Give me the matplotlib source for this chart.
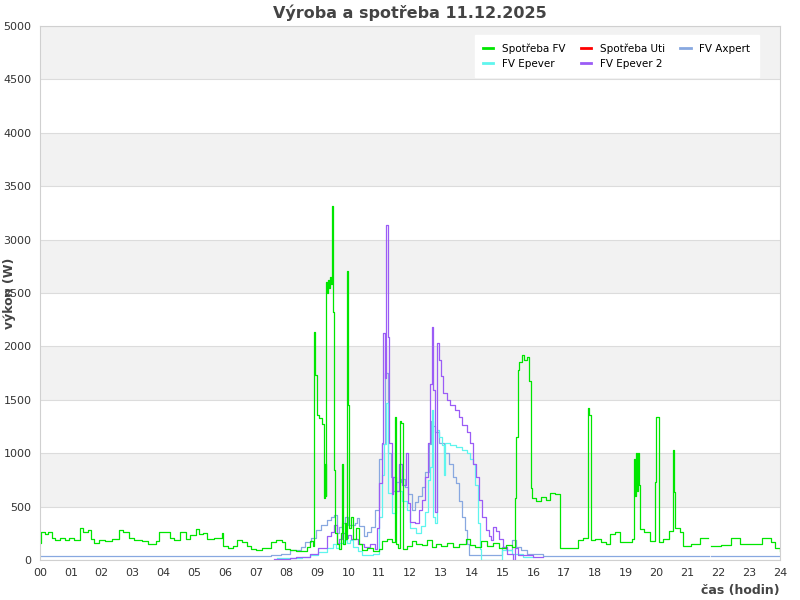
import numpy as np
import matplotlib
matplotlib.use("Agg")
import matplotlib.pyplot as plt

nan = np.nan

# Spotřeba FV (hour, W)
fv_h = [0.00, 0.03, 0.15, 0.25, 0.40, 0.50, 0.65, 0.80, 0.95, 1.10, 1.30, 1.40, 1.55, 1.65, 1.75,
        1.90, 2.10, 2.35, 2.55, 2.70, 2.90, 3.05, 3.30, 3.50, 3.75, 3.85, 4.20, 4.35, 4.55, 4.75,
        4.85, 5.05, 5.15, 5.30, 5.40, 5.65, 5.90, 5.95, 6.10, 6.25, 6.40, 6.55, 6.70, 6.85, 7.00,
        7.20, 7.50, 7.65, 7.85, 7.95, 8.10, 8.30, 8.50, 8.65, 8.75, 8.85, 8.90, 8.93, 8.97, 9.05,
        9.15, 9.20, 9.23, 9.26, 9.28, 9.30, 9.33, 9.36, 9.40, 9.45, 9.48, 9.51, 9.53, 9.56, 9.62,
        9.70, 9.76, 9.80, 9.83, 9.88, 9.92, 9.97, 10.00, 10.03, 10.08, 10.15, 10.25, 10.35, 10.45,
        10.60, 10.80, 11.00, 11.10, 11.25, 11.40, 11.52, 11.56, 11.62, 11.66, 11.72, 11.78, 11.90,
        12.05, 12.20, 12.40, 12.55, 12.70, 12.85, 13.00, 13.20, 13.40, 13.60, 13.80, 13.95, 14.10,
        14.30, 14.50, 14.70, 14.90, 15.10, 15.30, 15.40, 15.45, 15.50, 15.55, 15.62, 15.70, 15.78,
        15.87, 15.93, 15.97, 16.10, 16.25, 16.40, 16.55, 16.70, 16.85, 17.45, 17.60, 17.78, 17.82,
        17.87, 18.00, 18.20, 18.35, 18.50, 18.65, 18.80, 19.20, 19.25, 19.30, 19.33, 19.37, 19.40,
        19.43, 19.46, 19.60, 19.78, 19.95, 19.98, 20.07, 20.20, 20.40, 20.52, 20.55, 20.60, 20.75,
        20.85, 21.10, 21.40, 21.67, 21.77, 22.10, 22.40, 22.70, 23.40, 23.70, 23.85, 24.00]
fv_w = [160, 260, 240, 265, 210, 190, 205, 185, 210, 190, 300, 260, 280, 200, 160,
        185, 180, 200, 280, 260, 210, 190, 180, 150, 175, 260, 205, 190, 260, 200,
        230, 290, 240, 250, 200, 205, 255, 130, 110, 130, 190, 170, 130, 100, 95,
        110, 170, 190, 170, 100, 90, 85, 80, 120, 180, 130, 2130, 1730, 1360, 1330,
        1270, 580, 900, 600, 2600, 2500, 2620, 2550, 2650, 2580, 3310, 2320, 840, 250, 150,
        100, 250, 900, 150, 350, 200, 2710, 1450, 300, 400, 200, 300, 150, 90,
        110, 80, 100, 180, 200, 170, 1340, 150, 110, 1300, 1280, 100, 130,
        180, 150, 140, 190, 120, 150, 130, 160, 120, 150, 200, 140, 120,
        180, 130, 160, 110, 140, 120, 580, 1150, 1780, 1850, 1920, 1870, 1900,
        1680, 670, 580, 550, 590, 560, 630, 620, 110, 190, 210, 1420, 1360,
        190, 200, 170, 150, 240, 260, 170, 200, 950, 600, 1000, 650, 1000,
        700, 290, 260, 180, 730, 1340, 170, 200, 270, 1030, 640, 300, 260,
        130, 150, 210, nan, 130, 140, 210, 150, 210, 170, 110, 80]

# Spotřeba Uti - no data this day
uti_h = []
uti_w = []

# FV Axpert
ax_h = [0.00, 7.48, 7.80, 8.10, 8.45, 8.60, 8.80, 8.95, 9.10, 9.30, 9.45, 9.55, 9.62, 9.70, 9.80,
        9.90, 10.00, 10.20, 10.28, 10.35, 10.50, 10.62, 10.72, 10.86, 11.00, 11.10, 11.20, 11.30,
        11.38, 11.45, 11.55, 11.70, 11.85, 11.95, 12.05, 12.15, 12.25, 12.40, 12.50, 12.60, 12.67,
        12.75, 12.80, 12.95, 13.10, 13.25, 13.40, 13.50, 13.60, 13.70, 13.78, 13.85, 13.92, 14.97,
        15.10, 15.30, 15.45, 15.60, 15.78, 16.00, 16.30, 21.70, 21.77, 24.00]
ax_w = [35, 45, 60, 95, 120, 170, 210, 280, 330, 370, 400, 420, 250, 310, 350,
        400, 330, 350, 390, 320, 220, 260, 310, 470, 950, 1090, 1750, 1000,
        780, 650, 730, 760, 680, 620, 470, 540, 600, 680, 820, 1090, 1300,
        1250, 1200, 1100, 1000, 900, 780, 720, 550, 400, 280, 150, 47, 125,
        90, 190, 120, 90, 60, 55, 37, nan, 37, 37]

# FV Epever
ep_h = [7.70, 8.00, 8.50, 8.76, 9.00, 9.30, 9.50, 9.60, 9.70, 9.85, 9.95, 10.05, 10.15, 10.30,
        10.45, 10.60, 10.80, 11.00, 11.10, 11.15, 11.22, 11.30, 11.40, 11.55, 11.75, 11.90, 12.00,
        12.20, 12.35, 12.50, 12.58, 12.65, 12.70, 12.73, 12.80, 12.88, 12.95, 13.05, 13.10, 13.15,
        13.30, 13.50, 13.70, 13.85, 13.95, 14.05, 14.12, 14.20, 14.27, 14.30, 14.97, 15.30, 15.67,
        16.00]
ep_w = [15, 20, 30, 45, 75, 110, 150, 110, 160, 190, 160, 190, 120, 80,
        50, 45, 60, 400, 800, 1090, 1470, 630, 440, 650, 550, 470, 300,
        250, 320, 450, 750, 870, 1400, 400, 350, 1220, 1150, 1080, 800, 1100,
        1080, 1060, 1030, 1000, 950, 900, 700, 350, 100, 0, 95, 60, 30,
        30]

# FV Epever 2
ep2_h = [7.60, 8.10, 8.30, 8.75, 9.00, 9.30, 9.45, 9.55, 9.62, 9.70, 9.80, 9.90, 10.00, 10.10,
         10.30, 10.50, 10.70, 10.85, 10.93, 11.00, 11.08, 11.14, 11.20, 11.22, 11.30, 11.33, 11.40,
         11.45, 11.55, 11.65, 11.75, 11.87, 11.92, 12.00, 12.15, 12.30, 12.40, 12.50, 12.58, 12.65,
         12.72, 12.76, 12.80, 12.87, 12.93, 13.00, 13.08, 13.20, 13.30, 13.45, 13.60, 13.70, 13.85,
         13.95, 14.05, 14.15, 14.25, 14.35, 14.45, 14.55, 14.62, 14.70, 14.80, 14.90, 15.00, 15.14,
         15.35, 15.40, 15.50, 16.00, 16.30]
ep2_w = [5, 20, 30, 60, 110, 220, 260, 330, 160, 200, 250, 210, 230, 200,
         150, 120, 150, 100, 300, 720, 1100, 2125, 1700, 3140, 2090, 1100, 620,
         780, 650, 900, 700, 1000, 530, 360, 350, 470, 560, 780, 1100, 1650,
         2185, 1590, 450, 2030, 1870, 1720, 1560, 1500, 1450, 1400, 1340, 1260, 1200,
         1100, 900, 780, 560, 400, 280, 220, 190, 310, 270, 200, 125, 60,
         0, 110, 50, 30, 30]

series = [
    ("Spotřeba FV", fv_h, fv_w, "#00e600"),
    ("Spotřeba Uti", uti_h, uti_w, "#ff0000"),
    ("FV Axpert", ax_h, ax_w, "#88a8e0"),
    ("FV Epever", ep_h, ep_w, "#5ff5ee"),
    ("FV Epever 2", ep2_h, ep2_w, "#9b5cf6"),
]
# draw order (back to front)
draw_order = ["FV Axpert", "FV Epever", "FV Epever 2", "Spotřeba Uti", "Spotřeba FV"]
# legend order so it reads row by row in 3 columns
legend_order = ["Spotřeba FV", "FV Epever", "Spotřeba Uti", "FV Epever 2", "FV Axpert"]

x_labels = ["%02d" % h for h in range(25)]
y_ticks = list(range(0, 5001, 500))

fig = plt.figure(figsize=(8, 6), dpi=100)
ax = fig.add_axes([0.05, 0.0667, 0.925, 0.89])

for i, lo in enumerate(range(0, 5000, 500)):
    if i % 2 == 1:
        ax.axhspan(lo, lo + 500, color="#f2f2f2", zorder=0, lw=0)
for y in y_ticks:
    ax.axhline(y, color="#dcdcdc", lw=0.8, zorder=0.5)

handles = {}
lookup = {s[0]: s for s in series}
for name in draw_order:
    _, h, w, c = lookup[name]
    ln, = ax.plot(h, w, color=c, lw=0.9, drawstyle="steps-post", label=name, zorder=2)
    handles[name] = ln

leg = ax.legend([handles[n] for n in legend_order], legend_order, loc="upper right",
                ncol=3, fontsize=7.5, frameon=True, fancybox=False, framealpha=1,
                edgecolor="white", handlelength=1.0, columnspacing=1.5,
                bbox_to_anchor=(0.978, 0.993), borderpad=0.8)
for l in leg.get_lines():
    l.set_linewidth(2)

ax.set_xlim(0, 24)
ax.set_ylim(0, 5000)
ax.set_xticks(range(25))
ax.set_xticklabels(x_labels)
ax.set_yticks(y_ticks)
ax.tick_params(length=0, labelsize=8, colors="#333333", pad=6)
for s in ax.spines.values():
    s.set_color("#d0d0d0")

ax.set_title("Výroba a spotřeba 11.12.2025", fontsize=11.5, fontweight="bold", color="#444444", pad=6)
ax.set_xlabel("čas (hodin)", fontsize=9, fontweight="bold", color="#444444", loc="right", labelpad=4)
ax.set_ylabel("výkon (W)", fontsize=9, fontweight="bold", color="#444444")
ax.yaxis.set_label_coords(-0.033, 0.5)

plt.savefig("out.png", dpi=100)
